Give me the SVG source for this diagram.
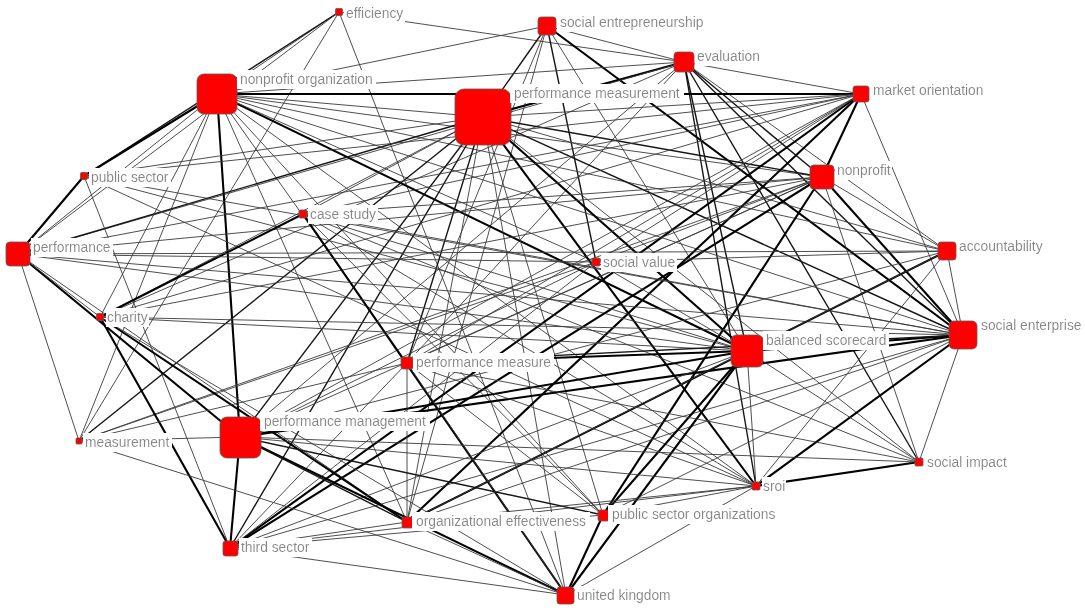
<svg xmlns="http://www.w3.org/2000/svg" width="1085" height="610" viewBox="0 0 1085 610">
<defs>
<style>
.e1{stroke:#3a3a3a;stroke-width:0.9;fill:none}
.e2{stroke:#151515;stroke-width:1.4;fill:none}
.e3{stroke:#000;stroke-width:2.1;fill:none}
.n{fill:#ff0000;stroke:#5a5a5a;stroke-width:0.8}
.l{font-family:"Liberation Sans",Arial,sans-serif;font-size:13.8px;fill:#858585;filter:url(#lb)}
</style>
<filter id="lb" x="-0.02" y="-0.08" width="1.04" height="1.16"><feFlood flood-color="#ffffff"/><feComposite in="SourceGraphic"/></filter>
</defs>
<rect width="1085" height="610" fill="#fff"/>
<g id="connectors">
<line class="e1" x1="339" y1="12" x2="217" y2="94"/>
<line class="e2" x1="339" y1="12" x2="84" y2="176"/>
<line class="e1" x1="339" y1="12" x2="18" y2="254"/>
<line class="e1" x1="339" y1="12" x2="79" y2="441"/>
<line class="e1" x1="339" y1="12" x2="566" y2="595"/>
<line class="e1" x1="339" y1="12" x2="684" y2="62"/>
<line class="e1" x1="547" y1="26" x2="217" y2="94"/>
<line class="e2" x1="547" y1="26" x2="483" y2="117"/>
<line class="e1" x1="547" y1="26" x2="407" y2="522"/>
<line class="e2" x1="547" y1="26" x2="596" y2="262"/>
<line class="e1" x1="547" y1="26" x2="747" y2="351"/>
<line class="e3" x1="547" y1="26" x2="963" y2="335"/>
<line class="e1" x1="547" y1="26" x2="407" y2="363"/>
<line class="e1" x1="547" y1="26" x2="684" y2="62"/>
<line class="e1" x1="684" y1="62" x2="217" y2="94"/>
<line class="e3" x1="684" y1="62" x2="483" y2="117"/>
<line class="e1" x1="684" y1="62" x2="861" y2="94"/>
<line class="e2" x1="684" y1="62" x2="747" y2="351"/>
<line class="e2" x1="684" y1="62" x2="963" y2="335"/>
<line class="e2" x1="684" y1="62" x2="919" y2="462"/>
<line class="e2" x1="684" y1="62" x2="756" y2="486"/>
<line class="e1" x1="684" y1="62" x2="947" y2="251"/>
<line class="e2" x1="684" y1="62" x2="822" y2="177"/>
<line class="e1" x1="684" y1="62" x2="407" y2="363"/>
<line class="e1" x1="684" y1="62" x2="240" y2="437"/>
<line class="e1" x1="684" y1="62" x2="18" y2="254"/>
<line class="e1" x1="684" y1="62" x2="100" y2="317"/>
<line class="e3" x1="217" y1="94" x2="861" y2="94"/>
<line class="e1" x1="217" y1="94" x2="483" y2="117"/>
<line class="e1" x1="217" y1="94" x2="822" y2="177"/>
<line class="e1" x1="217" y1="94" x2="947" y2="251"/>
<line class="e1" x1="217" y1="94" x2="963" y2="335"/>
<line class="e3" x1="217" y1="94" x2="747" y2="351"/>
<line class="e1" x1="217" y1="94" x2="596" y2="262"/>
<line class="e3" x1="217" y1="94" x2="84" y2="176"/>
<line class="e1" x1="217" y1="94" x2="18" y2="254"/>
<line class="e3" x1="217" y1="94" x2="240" y2="437"/>
<line class="e1" x1="217" y1="94" x2="100" y2="317"/>
<line class="e1" x1="217" y1="94" x2="407" y2="522"/>
<line class="e1" x1="217" y1="94" x2="407" y2="363"/>
<line class="e1" x1="217" y1="94" x2="756" y2="486"/>
<line class="e1" x1="217" y1="94" x2="79" y2="441"/>
<line class="e1" x1="217" y1="94" x2="603" y2="515"/>
<line class="e1" x1="483" y1="117" x2="861" y2="94"/>
<line class="e1" x1="483" y1="117" x2="84" y2="176"/>
<line class="e2" x1="483" y1="117" x2="822" y2="177"/>
<line class="e1" x1="483" y1="117" x2="303" y2="214"/>
<line class="e2" x1="483" y1="117" x2="18" y2="254"/>
<line class="e1" x1="483" y1="117" x2="947" y2="251"/>
<line class="e2" x1="483" y1="117" x2="963" y2="335"/>
<line class="e3" x1="483" y1="117" x2="747" y2="351"/>
<line class="e2" x1="483" y1="117" x2="407" y2="363"/>
<line class="e2" x1="483" y1="117" x2="240" y2="437"/>
<line class="e2" x1="483" y1="117" x2="79" y2="441"/>
<line class="e1" x1="483" y1="117" x2="919" y2="462"/>
<line class="e3" x1="483" y1="117" x2="756" y2="486"/>
<line class="e1" x1="483" y1="117" x2="407" y2="522"/>
<line class="e1" x1="483" y1="117" x2="603" y2="515"/>
<line class="e2" x1="483" y1="117" x2="230" y2="548"/>
<line class="e1" x1="483" y1="117" x2="566" y2="595"/>
<line class="e1" x1="483" y1="117" x2="100" y2="317"/>
<line class="e3" x1="861" y1="94" x2="822" y2="177"/>
<line class="e1" x1="861" y1="94" x2="963" y2="335"/>
<line class="e3" x1="861" y1="94" x2="407" y2="522"/>
<line class="e3" x1="861" y1="94" x2="230" y2="548"/>
<line class="e1" x1="861" y1="94" x2="84" y2="176"/>
<line class="e1" x1="861" y1="94" x2="303" y2="214"/>
<line class="e1" x1="861" y1="94" x2="18" y2="254"/>
<line class="e1" x1="861" y1="94" x2="100" y2="317"/>
<line class="e1" x1="861" y1="94" x2="407" y2="363"/>
<line class="e1" x1="861" y1="94" x2="240" y2="437"/>
<line class="e1" x1="861" y1="94" x2="596" y2="262"/>
<line class="e3" x1="84" y1="176" x2="18" y2="254"/>
<line class="e1" x1="84" y1="176" x2="747" y2="351"/>
<line class="e1" x1="84" y1="176" x2="756" y2="486"/>
<line class="e1" x1="84" y1="176" x2="230" y2="548"/>
<line class="e1" x1="84" y1="176" x2="963" y2="335"/>
<line class="e1" x1="822" y1="177" x2="947" y2="251"/>
<line class="e3" x1="822" y1="177" x2="963" y2="335"/>
<line class="e3" x1="822" y1="177" x2="230" y2="548"/>
<line class="e3" x1="822" y1="177" x2="603" y2="515"/>
<line class="e1" x1="822" y1="177" x2="100" y2="317"/>
<line class="e1" x1="822" y1="177" x2="18" y2="254"/>
<line class="e1" x1="822" y1="177" x2="303" y2="214"/>
<line class="e1" x1="822" y1="177" x2="407" y2="363"/>
<line class="e1" x1="822" y1="177" x2="79" y2="441"/>
<line class="e1" x1="822" y1="177" x2="919" y2="462"/>
<line class="e1" x1="822" y1="177" x2="240" y2="437"/>
<line class="e3" x1="303" y1="214" x2="100" y2="317"/>
<line class="e3" x1="303" y1="214" x2="566" y2="595"/>
<line class="e1" x1="303" y1="214" x2="756" y2="486"/>
<line class="e1" x1="303" y1="214" x2="919" y2="462"/>
<line class="e1" x1="303" y1="214" x2="747" y2="351"/>
<line class="e1" x1="303" y1="214" x2="963" y2="335"/>
<line class="e1" x1="303" y1="214" x2="603" y2="515"/>
<line class="e1" x1="18" y1="254" x2="947" y2="251"/>
<line class="e1" x1="18" y1="254" x2="596" y2="262"/>
<line class="e1" x1="18" y1="254" x2="963" y2="335"/>
<line class="e1" x1="18" y1="254" x2="747" y2="351"/>
<line class="e1" x1="18" y1="254" x2="79" y2="441"/>
<line class="e3" x1="18" y1="254" x2="240" y2="437"/>
<line class="e1" x1="18" y1="254" x2="100" y2="317"/>
<line class="e1" x1="18" y1="254" x2="407" y2="522"/>
<line class="e1" x1="947" y1="251" x2="963" y2="335"/>
<line class="e3" x1="947" y1="251" x2="407" y2="522"/>
<line class="e1" x1="947" y1="251" x2="240" y2="437"/>
<line class="e1" x1="947" y1="251" x2="747" y2="351"/>
<line class="e1" x1="947" y1="251" x2="756" y2="486"/>
<line class="e1" x1="947" y1="251" x2="596" y2="262"/>
<line class="e1" x1="596" y1="262" x2="240" y2="437"/>
<line class="e1" x1="596" y1="262" x2="230" y2="548"/>
<line class="e1" x1="596" y1="262" x2="822" y2="177"/>
<line class="e1" x1="596" y1="262" x2="79" y2="441"/>
<line class="e1" x1="596" y1="262" x2="747" y2="351"/>
<line class="e1" x1="100" y1="317" x2="963" y2="335"/>
<line class="e1" x1="100" y1="317" x2="747" y2="351"/>
<line class="e3" x1="100" y1="317" x2="230" y2="548"/>
<line class="e3" x1="100" y1="317" x2="407" y2="522"/>
<line class="e1" x1="100" y1="317" x2="566" y2="595"/>
<line class="e3" x1="963" y1="335" x2="747" y2="351"/>
<line class="e2" x1="963" y1="335" x2="407" y2="363"/>
<line class="e3" x1="963" y1="335" x2="240" y2="437"/>
<line class="e1" x1="963" y1="335" x2="919" y2="462"/>
<line class="e3" x1="963" y1="335" x2="756" y2="486"/>
<line class="e1" x1="963" y1="335" x2="603" y2="515"/>
<line class="e1" x1="963" y1="335" x2="407" y2="522"/>
<line class="e1" x1="963" y1="335" x2="230" y2="548"/>
<line class="e3" x1="747" y1="351" x2="407" y2="363"/>
<line class="e3" x1="747" y1="351" x2="240" y2="437"/>
<line class="e1" x1="747" y1="351" x2="919" y2="462"/>
<line class="e1" x1="747" y1="351" x2="756" y2="486"/>
<line class="e3" x1="747" y1="351" x2="603" y2="515"/>
<line class="e3" x1="747" y1="351" x2="566" y2="595"/>
<line class="e1" x1="747" y1="351" x2="407" y2="522"/>
<line class="e1" x1="747" y1="351" x2="230" y2="548"/>
<line class="e1" x1="407" y1="363" x2="603" y2="515"/>
<line class="e1" x1="407" y1="363" x2="756" y2="486"/>
<line class="e1" x1="407" y1="363" x2="919" y2="462"/>
<line class="e1" x1="407" y1="363" x2="566" y2="595"/>
<line class="e1" x1="407" y1="363" x2="407" y2="522"/>
<line class="e1" x1="407" y1="363" x2="230" y2="548"/>
<line class="e1" x1="407" y1="363" x2="79" y2="441"/>
<line class="e1" x1="240" y1="437" x2="79" y2="441"/>
<line class="e3" x1="240" y1="437" x2="566" y2="595"/>
<line class="e2" x1="240" y1="437" x2="407" y2="522"/>
<line class="e2" x1="240" y1="437" x2="603" y2="515"/>
<line class="e3" x1="240" y1="437" x2="230" y2="548"/>
<line class="e1" x1="240" y1="437" x2="919" y2="462"/>
<line class="e1" x1="240" y1="437" x2="756" y2="486"/>
<line class="e1" x1="79" y1="441" x2="566" y2="595"/>
<line class="e3" x1="919" y1="462" x2="756" y2="486"/>
<line class="e1" x1="756" y1="486" x2="407" y2="522"/>
<line class="e1" x1="756" y1="486" x2="230" y2="548"/>
<line class="e1" x1="756" y1="486" x2="603" y2="515"/>
<line class="e1" x1="756" y1="486" x2="566" y2="595"/>
<line class="e1" x1="407" y1="522" x2="230" y2="548"/>
<line class="e1" x1="407" y1="522" x2="566" y2="595"/>
<line class="e3" x1="603" y1="515" x2="566" y2="595"/>
<line class="e1" x1="603" y1="515" x2="230" y2="548"/>
<line class="e1" x1="230" y1="548" x2="566" y2="595"/>
</g>
<g id="node-efficiency"><rect class="n" x="335.5" y="8.5" width="7" height="7" rx="1"/><text class="l" x="346" y="18">efficiency</text></g>
<g id="node-social-entrepreneurship"><rect class="n" x="538" y="17" width="18" height="18" rx="3"/><text class="l" x="560" y="27">social entrepreneurship</text></g>
<g id="node-evaluation"><rect class="n" x="674" y="52" width="20" height="20" rx="3.5"/><text class="l" x="697" y="61">evaluation</text></g>
<g id="node-nonprofit-organization"><rect class="n" x="197" y="74" width="40" height="40" rx="7"/><text class="l" x="240" y="84">nonprofit organization</text></g>
<g id="node-performance-measurement"><rect class="n" x="455" y="89" width="56" height="56" rx="9"/><text class="l" x="514" y="98">performance measurement</text></g>
<g id="node-market-orientation"><rect class="n" x="853" y="86" width="16" height="16" rx="2.5"/><text class="l" x="873" y="95">market orientation</text></g>
<g id="node-public-sector"><rect class="n" x="80.5" y="172.5" width="7" height="7" rx="1"/><text class="l" x="91" y="182">public sector</text></g>
<g id="node-nonprofit"><rect class="n" x="810" y="165" width="24" height="24" rx="4"/><text class="l" x="837" y="175">nonprofit</text></g>
<g id="node-case-study"><rect class="n" x="299" y="210" width="8" height="8" rx="1.2"/><text class="l" x="310" y="219">case study</text></g>
<g id="node-performance"><rect class="n" x="6" y="242" width="24" height="24" rx="4"/><text class="l" x="33" y="252">performance</text></g>
<g id="node-accountability"><rect class="n" x="938" y="242" width="18" height="18" rx="3"/><text class="l" x="959" y="251">accountability</text></g>
<g id="node-social-value"><rect class="n" x="592" y="258" width="8" height="8" rx="1.2"/><text class="l" x="603" y="267">social value</text></g>
<g id="node-charity"><rect class="n" x="96.5" y="313.5" width="7" height="7" rx="1"/><text class="l" x="107" y="322">charity</text></g>
<g id="node-social-enterprise"><rect class="n" x="949" y="321" width="28" height="28" rx="5"/><text class="l" x="981" y="330">social enterprise</text></g>
<g id="node-balanced-scorecard"><rect class="n" x="731" y="335" width="32" height="32" rx="5.5"/><text class="l" x="766" y="345">balanced scorecard</text></g>
<g id="node-performance-measures"><rect class="n" x="401" y="357" width="12" height="12" rx="2"/><text class="l" x="416" y="367">performance measure</text></g>
<g id="node-performance-management"><rect class="n" x="220" y="417" width="41" height="41" rx="7"/><text class="l" x="264" y="426">performance management</text></g>
<g id="node-measurement"><rect class="n" x="76" y="438" width="6" height="6" rx="1"/><text class="l" x="85" y="447">measurement</text></g>
<g id="node-social-impact"><rect class="n" x="915" y="458" width="8" height="8" rx="1.2"/><text class="l" x="927" y="467">social impact</text></g>
<g id="node-sroi"><rect class="n" x="752" y="482" width="8" height="8" rx="1.2"/><text class="l" x="763" y="491">sroi</text></g>
<g id="node-organizational-effectiveness"><rect class="n" x="402" y="517" width="11" height="11" rx="1.8"/><text class="l" x="416" y="526">organizational effectiveness</text></g>
<g id="node-public-sector-organizations"><rect class="n" x="598" y="510" width="11" height="11" rx="1.8"/><text class="l" x="612" y="519">public sector organizations</text></g>
<g id="node-third-sector"><rect class="n" x="223" y="541" width="15" height="15" rx="2.5"/><text class="l" x="241" y="552">third sector</text></g>
<g id="node-united-kingdom"><rect class="n" x="557" y="587" width="17" height="17" rx="2.8"/><text class="l" x="577" y="600">united kingdom</text></g>
</svg>
